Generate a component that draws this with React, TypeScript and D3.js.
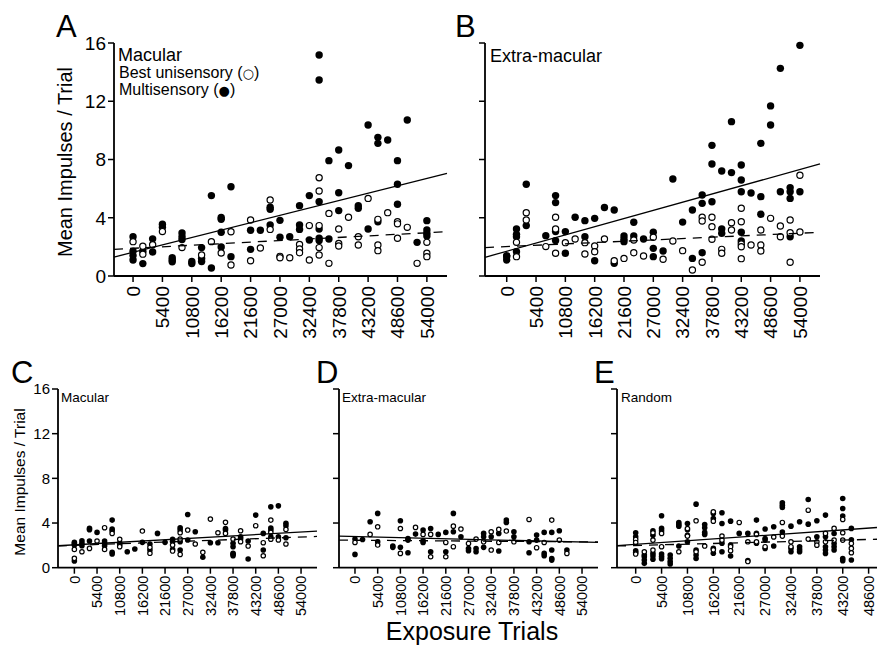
import * as d3 from 'd3';

// exposure trial ticks and value ticks
const yTicks = [0, 4, 8, 12, 16];
const xTicksFull = [0, 5400, 10800, 16200, 21600, 27000, 32400, 37800, 43200, 48600, 54000];
const xTicksE = [0, 5400, 10800, 16200, 21600, 27000, 32400, 37800, 43200, 48600];

type Col = [number, number[]];

// Panel A - macular, trained
const multiA: Col[] = [
  [0, [2.7, 1.7, 1.4, 1.1]], [1800, [1.7, 0.85]], [3600, [2.55, 1.65]], [5400, [3.55, 3.35]],
  [7200, [1.25, 1.1, 0.98]], [9000, [2.95, 2.7, 2.5]], [10800, [1.0, 0.85]], [12600, [1.95, 1.2, 1.0]],
  [14400, [5.52, 0.55]], [16200, [4.02, 3.9, 3.0, 2.0]], [18000, [6.13, 1.33]], [21600, [3.14, 1.83]],
  [23400, [3.14]], [25200, [4.72, 4.58, 3.5]], [27000, [3.82, 2.66]], [28800, [2.7]],
  [30600, [4.83, 3.5, 3.2]], [32400, [5.52, 2.47]], [34200, [15.18, 13.46, 5.1, 3.23, 2.59, 2.43]],
  [36000, [7.92, 2.54]], [37800, [8.65, 5.72, 4.49]], [39600, [7.58]], [41400, [4.83, 4.65]],
  [43200, [10.37, 3.23]], [45000, [9.52, 9.11, 3.73]], [46800, [9.34]], [48600, [7.92, 6.3, 4.93]],
  [50400, [10.71]], [52200, [2.31]], [54000, [3.8, 3.16, 2.93, 2.75]],
];
const uniA: Col[] = [
  [0, [2.36]], [1800, [2.05, 1.5]], [3600, [2.15]], [5400, [3.05]], [9000, [1.95]], [12600, [1.45]],
  [14400, [2.36]], [16200, [1.58]], [18000, [3.04, 0.76]], [21600, [3.85, 1.05]], [23400, [1.92]],
  [25200, [5.22, 3.2]], [27000, [1.35, 1.25]], [28800, [1.25]], [30600, [2.17, 1.85, 1.6]],
  [32400, [3.46, 1.1]], [34200, [6.75, 5.84, 3.46, 1.95, 1.44]], [36000, [4.3, 0.87]],
  [37800, [3.23, 2.24, 2.06]], [39600, [4.03]], [41400, [2.7, 2.13]], [43200, [5.33]],
  [45000, [3.89, 2.13, 1.74]], [46800, [4.35]], [48600, [3.73, 3.58, 2.59]], [50400, [3.34]],
  [52200, [0.87]], [54000, [2.31, 1.56, 1.33]],
];

// Panel B - extra-macular, trained
const multiB: Col[] = [
  [0, [1.4, 1.33, 1.1]], [1800, [3.23, 2.86, 2.7, 1.67]], [3600, [6.3, 3.46]], [7200, [2.77]],
  [9000, [5.52, 5.04, 3.05, 2.43]], [10800, [3.05, 1.56]], [12600, [4.03]], [14400, [3.8, 2.7]],
  [16200, [3.96, 1.05]], [18000, [4.7]], [19800, [4.53, 0.87]], [21600, [2.75, 2.52, 2.36]],
  [23400, [3.69, 2.75]], [25200, [2.54]], [27000, [3.0, 1.9, 1.33]], [28800, [1.72]], [30600, [6.66]],
  [32400, [3.7]], [34200, [4.53, 1.21]], [36000, [5.56, 4.99, 1.6]], [37800, [8.97, 7.69, 5.1]],
  [39600, [7.21, 3.23, 2.93]], [41400, [10.6, 7.1]], [43200, [7.62, 6.59, 5.79, 3.0, 2.4]],
  [45000, [5.7]], [46800, [9.11, 5.45, 4.24]], [48600, [11.68, 10.37]], [50400, [14.26, 5.79]],
  [52200, [6.07, 5.79, 5.33, 2.7]], [54000, [15.84, 5.79]],
];
const uniB: Col[] = [
  [1800, [2.31, 1.33]], [3600, [4.35, 3.85]], [7200, [2.02]], [9000, [4.03, 3.23, 1.56]],
  [10800, [2.29]], [12600, [2.54]], [14400, [2.29, 1.51]], [16200, [2.06, 1.67]], [18000, [2.54]],
  [19800, [1.05]], [21600, [1.21]], [23400, [2.47, 1.6]], [25200, [1.37]], [27000, [2.66]],
  [28800, [1.15]], [30600, [2.4]], [32400, [1.74]], [34200, [0.41]], [36000, [4.03, 3.78, 0.94]],
  [37800, [4.03, 3.39, 2.52]], [39600, [1.83, 1.56]], [41400, [3.66, 3.16]],
  [43200, [4.65, 3.73, 2.2, 2.01, 1.19]], [45000, [2.13]], [46800, [3.16, 2.13, 1.72]],
  [48600, [3.96]], [50400, [3.43, 2.7]], [52200, [3.85, 2.97, 0.94]], [54000, [6.92, 3.02]],
];

// Panel C - macular, control
const multiC: Col[] = [
  [0, [2.27, 2.15, 2.03, 0.6]], [1800, [2.41, 2.18, 1.97]], [3600, [3.52, 3.4, 2.39]], [5400, [3.16]],
  [7200, [2.39, 2.18, 1.97]], [9000, [4.26, 3.46, 3.3, 1.38, 1.22]], [10800, [2.2, 2.03]],
  [12600, [1.43]], [14400, [1.67]], [16200, [2.27]], [18000, [2.12, 1.58]], [19800, [3.07]],
  [21600, [2.27]], [23400, [2.54, 2.35, 1.64]], [25200, [3.58, 3.37, 2.33, 1.58]], [27000, [4.77, 2.48]],
  [28800, [3.22]], [30600, [0.93]], [32400, [2.24]], [34200, [2.24]], [36000, [3.5, 3.37]],
  [37800, [2.18, 1.88, 1.3, 1.2, 1.07]], [39600, [2.77, 2.6]], [41400, [2.39, 0.78]], [43200, [4.71]],
  [45000, [3.07, 1.58]], [46800, [5.45, 3.55, 3.37, 2.77]], [48600, [5.54, 2.77]], [50400, [3.97, 3.75, 2.68]],
];
const uniC: Col[] = [
  [0, [1.64, 0.84]], [1800, [1.43]], [3600, [1.73]], [5400, [2.39]], [7200, [3.58, 1.64]], [9000, [3.07]],
  [10800, [2.54, 1.88]], [16200, [3.28]], [18000, [1.82, 1.29]], [23400, [2.03, 1.49]],
  [25200, [3.13, 2.57, 1.19]], [27000, [3.37]], [28800, [2.12]], [30600, [1.38]], [32400, [4.35]],
  [34200, [3.13]], [36000, [4.06, 3.07]], [37800, [2.57]], [39600, [3.31, 2.33]], [41400, [1.94]],
  [43200, [3.76]], [45000, [2.24, 1.07]], [46800, [4.26, 3.16, 2.55]], [48600, [2.48]], [50400, [3.43, 2.12]],
];

// Panel D - extra-macular, control
const multiD: Col[] = [
  [0, [2.56, 1.19]], [1800, [2.53]], [3600, [4.11]], [5400, [4.86, 2.32]], [9000, [1.94, 1.82]],
  [10800, [4.2, 1.82]], [12600, [2.62, 2.47, 1.34]], [14400, [3.01]], [16200, [3.37, 2.41, 2.26]],
  [18000, [3.51, 1.43]], [19800, [2.98]], [21600, [3.16, 1.43]], [23400, [4.86, 3.22]], [25200, [2.77]],
  [27000, [1.72, 1.52]], [28800, [1.72, 1.43]], [30600, [3.07, 2.77, 1.82]], [32400, [2.77]],
  [34200, [3.07, 1.49]], [36000, [4.26, 4.05]], [37800, [3.22, 2.77]], [41400, [2.32, 1.34]],
  [43200, [2.92, 2.47]], [45000, [3.16, 1.28, 1.07]], [46800, [3.16, 1.58, 0.83, 0.68]],
  [48600, [3.31]], [50400, [1.58]],
];
const uniD: Col[] = [
  [0, [2.26]], [3600, [2.98]], [5400, [3.66, 2.03]], [10800, [3.51, 1.28]], [14400, [3.61]],
  [16200, [2.98]], [18000, [2.98, 0.98]], [21600, [2.26, 0.98]], [23400, [3.72, 1.88]], [25200, [3.46]],
  [27000, [2.17]], [28800, [2.56]], [30600, [2.32]], [32400, [3.22, 1.58]], [34200, [3.43, 2.26]],
  [36000, [3.28]], [37800, [2.32]], [41400, [4.32]], [43200, [1.79]], [45000, [2.26]], [46800, [4.26]],
  [48600, [2.47]], [50400, [1.28]],
];

// Panel E - random
const multiE: Col[] = [
  [0, [3.13, 2.77, 1.52, 1.37]], [1800, [1.13, 0.98, 0.68, 0.39]], [3600, [3.31, 2.9, 1.28, 1.05, 0.75]],
  [5400, [4.65, 3.52, 3.3, 1.22, 1.0, 0.8]], [7200, [1.13, 0.85, 0.55, 0.33]], [9000, [4.05, 3.87, 3.72, 1.94]],
  [10800, [3.96, 3.4, 2.9, 2.32]], [12600, [5.69, 1.58, 1.13, 0.83]], [14400, [3.87, 3.57, 3.16, 2.98]],
  [16200, [4.86, 4.4, 1.73, 1.3]], [18000, [4.92, 3.96, 2.2, 1.43]], [19800, [4.17, 2.03, 1.05]],
  [21600, [3.07]], [23400, [3.07, 0.63]], [25200, [4.26, 3.07, 2.2]], [27000, [3.46, 2.62, 2.47, 1.73]],
  [28800, [3.66, 1.94]], [30600, [5.81, 5.6, 5.39, 3.2]], [32400, [3.72, 1.73, 1.43]],
  [34200, [4.11, 1.88, 1.64, 1.43]], [36000, [6.1, 3.9]], [37800, [4.2, 2.77]],
  [39600, [4.71, 2.77, 1.88, 1.58, 1.28]], [41400, [3.06, 2.17, 1.88, 1.58]],
  [43200, [6.2, 5.3, 4.62, 0.83, 0.63]], [45000, [3.52, 2.5, 0.69]],
];
const uniE: Col[] = [
  [0, [2.53, 2.26, 1.22]], [1800, [1.43]], [3600, [3.13, 2.47, 1.58]], [5400, [3.07, 1.88]], [9000, [1.43]],
  [10800, [3.5, 2.83]], [12600, [4.2, 1.43]], [14400, [1.94]], [16200, [5.0, 4.17, 1.6]], [18000, [2.83, 2.47]],
  [19800, [1.88, 1.52]], [21600, [4.05]], [23400, [2.32, 0.55]], [25200, [2.98, 2.32]], [27000, [1.88]],
  [28800, [2.75]], [30600, [4.05, 2.83]], [32400, [2.32, 1.88]], [36000, [5.15, 2.56]], [37800, [2.32, 2.02]],
  [39600, [3.07, 2.32]], [41400, [3.52, 2.47]], [43200, [4.32, 3.13, 2.47]], [45000, [2.17, 1.73, 1.34]],
];

// regression lines: [intercept, slope per 10000 trials]
const fitMultiA = [1.63, 0.94];
const fitUniA = [1.9, 0.198];
const fitMultiB = [1.7, 1.039];
const fitUniB = [2.02, 0.17];
const fitMultiC = [2.05, 0.212];
const fitUniC = [2.0, 0.138];
const fitMultiD = [2.795, -0.0925];
const fitUniD = [2.46, -0.0276];
const fitMultiE = [2.09, 0.3];
const fitUniE = [1.99, 0.111];

const FONT = "'Liberation Sans', Arial, Helvetica, sans-serif";

type PanelProps = {
  xr: [number, number];
  yr: [number, number];
  domain: [number, number];
  xTicks: number[];
  multi: Col[];
  uni: Col[];
  fitMulti: number[];
  fitUni: number[];
  r: number;
  yLabels: boolean;
  yFont: number;
  xFont: number;
  labelGap: number;
};

function Panel(p: PanelProps) {
  const x = d3.scaleLinear().domain(p.domain).range(p.xr);
  const y = d3.scaleLinear().domain([0, 16]).range(p.yr);
  const flat = (cols: Col[]) => cols.flatMap(([t, vs]) => vs.map((v) => [t, v] as [number, number]));
  const line = (fit: number[]) =>
    d3.line<number>().x((t) => x(t)).y((t) => y(fit[0] + (fit[1] * t) / 10000))(p.domain) || '';
  const tickLen = 6;
  const y0 = p.yr[0];
  return (
    <g fontFamily={FONT}>
      {flat(p.multi).map(([t, v], i) => (
        <circle key={'m' + i} cx={x(t)} cy={y(v)} r={p.r} fill="#000" />
      ))}
      {flat(p.uni).map(([t, v], i) => (
        <circle key={'u' + i} cx={x(t)} cy={y(v)} r={p.r - 0.6} fill="#fff" stroke="#000" strokeWidth={1.2} />
      ))}
      <path d={line(p.fitMulti)} stroke="#000" strokeWidth={1.3} fill="none" />
      <path d={line(p.fitUni)} stroke="#000" strokeWidth={1.3} fill="none" strokeDasharray="9,7" />
      {/* axes */}
      <line x1={p.xr[0]} x2={p.xr[0]} y1={p.yr[0]} y2={p.yr[1]} stroke="#000" strokeWidth={1.8} />
      <line x1={p.xr[0]} x2={p.xr[1]} y1={y0} y2={y0} stroke="#000" strokeWidth={1.8} />
      {yTicks.map((v) => (
        <g key={'y' + v}>
          <line x1={p.xr[0] - tickLen} x2={p.xr[0]} y1={y(v)} y2={y(v)} stroke="#000" strokeWidth={1.5} />
          {p.yLabels && (
            <text x={p.xr[0] - tickLen - 2} y={y(v)} dy="0.36em" textAnchor="end" fontSize={p.yFont}>
              {v}
            </text>
          )}
        </g>
      ))}
      {p.xTicks.map((t) => (
        <g key={'x' + t}>
          <line x1={x(t)} x2={x(t)} y1={y0} y2={y0 + tickLen} stroke="#000" strokeWidth={1.5} />
          <text
            transform={`translate(${x(t)},${y0 + p.labelGap}) rotate(-90)`}
            dy="0.36em"
            textAnchor="end"
            fontSize={p.xFont}
          >
            {t}
          </text>
        </g>
      ))}
    </g>
  );
}

export default function App() {
  const big = { yr: [276, 43] as [number, number], r: 3.7, yFont: 19, xFont: 19, labelGap: 10 };
  const small = { yr: [567.7, 389] as [number, number], r: 2.8, yFont: 15, xFont: 14.5, labelGap: 8 };
  return (
    <svg
      width={886}
      height={647}
      style={{ position: 'absolute', left: 0, top: 0, background: '#fff' }}
      fontFamily={FONT}
    >
      <rect width={886} height={647} fill="#fff" />
      <Panel {...big} xr={[114, 447]} domain={[-3500, 57700]} xTicks={xTicksFull}
        multi={multiA} uni={uniA} fitMulti={fitMultiA} fitUni={fitUniA} yLabels />
      <Panel {...big} xr={[485, 820]} domain={[-4000, 57700]} xTicks={xTicksFull}
        multi={multiB} uni={uniB} fitMulti={fitMultiB} fitUni={fitUniB} yLabels={false} />
      <Panel {...small} xr={[58, 317]} domain={[-3900, 57800]} xTicks={xTicksFull}
        multi={multiC} uni={uniC} fitMulti={fitMultiC} fitUni={fitUniC} yLabels />
      <Panel {...small} xr={[339, 598]} domain={[-3800, 57800]} xTicks={xTicksFull}
        multi={multiD} uni={uniD} fitMulti={fitMultiD} fitUni={fitUniD} yLabels={false} />
      <Panel {...small} xr={[617, 877]} domain={[-3900, 50350]} xTicks={xTicksE}
        multi={multiE} uni={uniE} fitMulti={fitMultiE} fitUni={fitUniE} yLabels={false} />

      {/* panel letters */}
      <text x={56} y={37} fontSize={31}>A</text>
      <text x={455} y={37} fontSize={31}>B</text>
      <text x={11} y={383} fontSize={31}>C</text>
      <text x={316} y={383} fontSize={31}>D</text>
      <text x={594} y={383} fontSize={31}>E</text>

      {/* inset labels */}
      <text x={118} y={61} fontSize={18}>Macular</text>
      <text x={119} y={78} fontSize={16}>
        Best unisensory (<tspan fontFamily="DejaVu Sans" fontSize={13} dy={-0.5}>○</tspan><tspan dy={0.5}>)</tspan>
      </text>
      <text x={119} y={95} fontSize={16}>
        Multisensory (<tspan fontFamily="DejaVu Sans" fontSize={13} dy={-0.5}>●</tspan><tspan dy={0.5}>)</tspan>
      </text>
      <text x={490} y={62} fontSize={18}>Extra-macular</text>
      <text x={61} y={402} fontSize={13.5}>Macular</text>
      <text x={342} y={402} fontSize={13.5}>Extra-macular</text>
      <text x={621} y={402} fontSize={13.5}>Random</text>

      {/* axis titles */}
      <text transform="translate(72,162) rotate(-90)" textAnchor="middle" fontSize={20}>
        Mean Impulses / Trial
      </text>
      <text transform="translate(25,482) rotate(-90)" textAnchor="middle" fontSize={15.5}>
        Mean Impulses / Trial
      </text>
      <text x={472} y={640} textAnchor="middle" fontSize={25}>Exposure Trials</text>
    </svg>
  );
}
